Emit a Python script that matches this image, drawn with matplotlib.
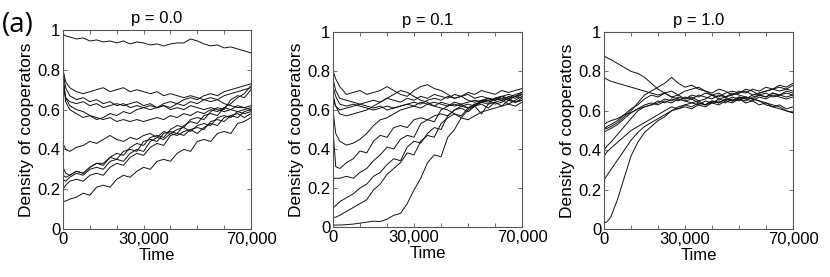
import matplotlib
matplotlib.use("Agg")
import matplotlib.pyplot as plt

plt.rcParams['font.family'] = ['Liberation Sans', 'DejaVu Sans']

# time axis (shared by all trajectories)
time = [0, 1000, 2500, 5000, 7500, 10000, 12500, 15000, 17500, 20000,
        22500, 25000, 27500, 30000, 32500, 35000, 37500, 40000, 42500, 45000,
        47500, 50000, 52500, 55000, 57500, 60000, 62500, 65000, 67500, 70000]

titles = ["p = 0.0", "p = 0.1", "p = 1.0"]
xtick_values = [0, 10000, 20000, 30000, 40000, 50000, 60000, 70000]
xtick_labels = ["0", "", "", "30,000", "", "", "", "70,000"]
ytick_values = [0, 0.2, 0.4, 0.6, 0.8, 1.0]
ytick_labels = ["0", "0.2", "0.4", "0.6", "0.8", "1"]

# p = 0.0 trajectories
p00 = [
    [0.98, 0.97, 0.965, 0.955, 0.96, 0.945, 0.95, 0.94, 0.945, 0.935, 0.945, 0.93, 0.94, 0.935, 0.925,
     0.93, 0.92, 0.93, 0.935, 0.935, 0.955, 0.945, 0.93, 0.92, 0.925, 0.91, 0.915, 0.905, 0.895, 0.885],
    [0.80, 0.74, 0.71, 0.69, 0.68, 0.69, 0.70, 0.71, 0.69, 0.70, 0.71, 0.69, 0.70, 0.69, 0.68,
     0.69, 0.67, 0.68, 0.67, 0.66, 0.67, 0.66, 0.65, 0.64, 0.65, 0.63, 0.62, 0.61, 0.61, 0.60],
    [0.79, 0.71, 0.67, 0.65, 0.66, 0.64, 0.65, 0.63, 0.64, 0.62, 0.63, 0.61, 0.62, 0.61, 0.60,
     0.61, 0.62, 0.61, 0.63, 0.62, 0.64, 0.63, 0.65, 0.66, 0.65, 0.67, 0.68, 0.69, 0.70, 0.71],
    [0.77, 0.66, 0.62, 0.60, 0.59, 0.57, 0.56, 0.55, 0.56, 0.54, 0.55, 0.54, 0.55, 0.54, 0.55,
     0.56, 0.55, 0.57, 0.56, 0.58, 0.57, 0.59, 0.58, 0.60, 0.59, 0.61, 0.60, 0.62, 0.61, 0.62],
    [0.75, 0.64, 0.60, 0.58, 0.56, 0.57, 0.55, 0.56, 0.58, 0.57, 0.59, 0.58, 0.60, 0.61, 0.62,
     0.61, 0.63, 0.64, 0.63, 0.65, 0.66, 0.65, 0.67, 0.68, 0.67, 0.69, 0.70, 0.71, 0.72, 0.73],
    [0.72, 0.66, 0.64, 0.63, 0.64, 0.62, 0.63, 0.61, 0.62, 0.63, 0.62, 0.63, 0.64, 0.62, 0.63,
     0.61, 0.62, 0.60, 0.61, 0.60, 0.62, 0.61, 0.60, 0.61, 0.60, 0.59, 0.60, 0.59, 0.58, 0.59],
    [0.43, 0.40, 0.39, 0.41, 0.42, 0.44, 0.43, 0.45, 0.47, 0.45, 0.44, 0.46, 0.45, 0.47, 0.48,
     0.46, 0.49, 0.48, 0.50, 0.51, 0.49, 0.52, 0.53, 0.52, 0.56, 0.57, 0.56, 0.59, 0.60, 0.61],
    [0.31, 0.28, 0.27, 0.29, 0.28, 0.31, 0.33, 0.32, 0.36, 0.38, 0.37, 0.41, 0.43, 0.42, 0.46,
     0.47, 0.46, 0.50, 0.52, 0.51, 0.55, 0.56, 0.55, 0.59, 0.61, 0.60, 0.65, 0.67, 0.66, 0.70],
    [0.27, 0.26, 0.27, 0.29, 0.28, 0.31, 0.33, 0.33, 0.36, 0.35, 0.39, 0.40, 0.39, 0.44, 0.45,
     0.44, 0.48, 0.49, 0.48, 0.52, 0.54, 0.53, 0.57, 0.58, 0.57, 0.61, 0.63, 0.66, 0.68, 0.72],
    [0.25, 0.24, 0.26, 0.28, 0.27, 0.30, 0.31, 0.30, 0.34, 0.35, 0.34, 0.38, 0.40, 0.39, 0.44,
     0.46, 0.45, 0.48, 0.47, 0.49, 0.50, 0.48, 0.51, 0.53, 0.52, 0.56, 0.57, 0.56, 0.59, 0.60],
    [0.20, 0.22, 0.24, 0.25, 0.24, 0.27, 0.28, 0.27, 0.31, 0.33, 0.32, 0.36, 0.38, 0.37, 0.41,
     0.43, 0.42, 0.47, 0.48, 0.47, 0.50, 0.51, 0.50, 0.54, 0.55, 0.54, 0.57, 0.58, 0.56, 0.58],
    [0.14, 0.14, 0.15, 0.16, 0.18, 0.17, 0.21, 0.22, 0.21, 0.25, 0.27, 0.26, 0.29, 0.31, 0.30,
     0.34, 0.35, 0.34, 0.38, 0.40, 0.39, 0.44, 0.45, 0.44, 0.48, 0.49, 0.48, 0.53, 0.54, 0.56],
]

# p = 0.1 trajectories
p01 = [
    [0.80, 0.76, 0.72, 0.68, 0.69, 0.70, 0.68, 0.69, 0.70, 0.72, 0.70, 0.68, 0.67, 0.70, 0.72,
     0.73, 0.71, 0.70, 0.68, 0.66, 0.67, 0.65, 0.64, 0.65, 0.66, 0.65, 0.67, 0.66, 0.68, 0.69],
    [0.76, 0.70, 0.66, 0.65, 0.64, 0.63, 0.62, 0.61, 0.62, 0.60, 0.61, 0.62, 0.63, 0.64, 0.63,
     0.65, 0.66, 0.65, 0.67, 0.66, 0.67, 0.68, 0.66, 0.67, 0.66, 0.65, 0.67, 0.66, 0.67, 0.66],
    [0.72, 0.67, 0.63, 0.62, 0.63, 0.62, 0.61, 0.60, 0.61, 0.62, 0.61, 0.62, 0.63, 0.62, 0.64,
     0.63, 0.64, 0.63, 0.62, 0.63, 0.62, 0.61, 0.63, 0.64, 0.65, 0.66, 0.67, 0.68, 0.67, 0.69],
    [0.68, 0.62, 0.58, 0.57, 0.58, 0.59, 0.60, 0.62, 0.64, 0.66, 0.68, 0.70, 0.69, 0.67, 0.65,
     0.64, 0.62, 0.61, 0.60, 0.58, 0.56, 0.55, 0.57, 0.59, 0.60, 0.61, 0.62, 0.63, 0.62, 0.64],
    [0.65, 0.62, 0.60, 0.61, 0.62, 0.63, 0.64, 0.65, 0.64, 0.66, 0.65, 0.64, 0.66, 0.65, 0.67,
     0.66, 0.68, 0.67, 0.66, 0.68, 0.67, 0.69, 0.68, 0.70, 0.69, 0.68, 0.70, 0.69, 0.70, 0.71],
    [0.60, 0.48, 0.44, 0.42, 0.43, 0.45, 0.48, 0.52, 0.55, 0.56, 0.58, 0.60, 0.61, 0.62, 0.61,
     0.63, 0.62, 0.64, 0.63, 0.62, 0.63, 0.64, 0.65, 0.64, 0.66, 0.65, 0.66, 0.65, 0.64, 0.65],
    [0.50, 0.31, 0.30, 0.33, 0.35, 0.39, 0.38, 0.44, 0.47, 0.46, 0.51, 0.52, 0.51, 0.55, 0.56,
     0.55, 0.57, 0.58, 0.57, 0.60, 0.61, 0.59, 0.62, 0.63, 0.61, 0.64, 0.65, 0.63, 0.65, 0.67],
    [0.25, 0.25, 0.25, 0.26, 0.25, 0.28, 0.30, 0.34, 0.37, 0.41, 0.40, 0.45, 0.47, 0.46, 0.53,
     0.55, 0.54, 0.60, 0.62, 0.64, 0.63, 0.61, 0.63, 0.64, 0.65, 0.63, 0.64, 0.66, 0.64, 0.65],
    [0.10, 0.11, 0.13, 0.15, 0.17, 0.20, 0.22, 0.26, 0.28, 0.32, 0.35, 0.34, 0.41, 0.44, 0.43,
     0.48, 0.51, 0.50, 0.57, 0.60, 0.62, 0.63, 0.62, 0.65, 0.64, 0.66, 0.67, 0.65, 0.67, 0.68],
    [0.05, 0.05, 0.06, 0.08, 0.10, 0.12, 0.14, 0.19, 0.22, 0.27, 0.30, 0.33, 0.38, 0.37, 0.44,
     0.47, 0.46, 0.53, 0.56, 0.58, 0.57, 0.61, 0.62, 0.64, 0.63, 0.66, 0.65, 0.67, 0.66, 0.68],
    [0.01, 0.01, 0.01, 0.012, 0.015, 0.02, 0.025, 0.03, 0.028, 0.04, 0.06, 0.07, 0.12, 0.19, 0.25,
     0.33, 0.37, 0.36, 0.46, 0.50, 0.56, 0.60, 0.62, 0.58, 0.63, 0.64, 0.62, 0.65, 0.64, 0.66],
]

# p = 1.0 trajectories
p10 = [
    [0.88, 0.87, 0.86, 0.84, 0.82, 0.80, 0.79, 0.77, 0.74, 0.71, 0.69, 0.67, 0.68, 0.66, 0.67,
     0.65, 0.66, 0.68, 0.66, 0.67, 0.65, 0.66, 0.64, 0.65, 0.63, 0.64, 0.62, 0.63, 0.61, 0.62],
    [0.77, 0.76, 0.75, 0.74, 0.73, 0.72, 0.71, 0.70, 0.69, 0.68, 0.69, 0.67, 0.66, 0.65, 0.64,
     0.65, 0.63, 0.64, 0.65, 0.64, 0.66, 0.65, 0.67, 0.66, 0.65, 0.64, 0.63, 0.62, 0.60, 0.59],
    [0.52, 0.51, 0.52, 0.54, 0.57, 0.60, 0.64, 0.68, 0.70, 0.72, 0.74, 0.77, 0.74, 0.72, 0.73,
     0.71, 0.70, 0.68, 0.69, 0.67, 0.68, 0.70, 0.69, 0.71, 0.70, 0.72, 0.71, 0.73, 0.72, 0.74],
    [0.50, 0.52, 0.53, 0.55, 0.58, 0.61, 0.63, 0.66, 0.68, 0.67, 0.69, 0.70, 0.68, 0.70, 0.71,
     0.72, 0.70, 0.69, 0.71, 0.70, 0.68, 0.69, 0.70, 0.68, 0.69, 0.70, 0.71, 0.70, 0.71, 0.70],
    [0.49, 0.50, 0.51, 0.53, 0.56, 0.59, 0.61, 0.62, 0.63, 0.65, 0.64, 0.66, 0.65, 0.67, 0.66,
     0.68, 0.67, 0.66, 0.68, 0.67, 0.69, 0.68, 0.67, 0.66, 0.65, 0.63, 0.62, 0.61, 0.60, 0.59],
    [0.53, 0.54, 0.55, 0.56, 0.58, 0.59, 0.61, 0.63, 0.64, 0.63, 0.65, 0.64, 0.66, 0.65, 0.66,
     0.64, 0.63, 0.65, 0.64, 0.66, 0.65, 0.67, 0.66, 0.68, 0.69, 0.70, 0.71, 0.72, 0.71, 0.73],
    [0.40, 0.42, 0.44, 0.48, 0.52, 0.56, 0.60, 0.62, 0.63, 0.64, 0.66, 0.65, 0.67, 0.66, 0.68,
     0.67, 0.69, 0.68, 0.67, 0.69, 0.70, 0.69, 0.71, 0.70, 0.68, 0.69, 0.67, 0.68, 0.69, 0.68],
    [0.37, 0.39, 0.41, 0.44, 0.47, 0.50, 0.52, 0.54, 0.56, 0.58, 0.60, 0.62, 0.61, 0.63, 0.62,
     0.64, 0.63, 0.65, 0.64, 0.66, 0.65, 0.67, 0.66, 0.65, 0.67, 0.66, 0.68, 0.67, 0.66, 0.67],
    [0.25, 0.27, 0.30, 0.35, 0.40, 0.45, 0.49, 0.52, 0.54, 0.56, 0.58, 0.60, 0.61, 0.62, 0.61,
     0.63, 0.62, 0.64, 0.63, 0.65, 0.64, 0.66, 0.67, 0.66, 0.68, 0.67, 0.69, 0.68, 0.67, 0.68],
    [0.03, 0.035, 0.06, 0.15, 0.26, 0.37, 0.44, 0.49, 0.52, 0.55, 0.57, 0.60, 0.62, 0.63, 0.64,
     0.63, 0.65, 0.64, 0.66, 0.65, 0.67, 0.66, 0.65, 0.67, 0.68, 0.67, 0.69, 0.68, 0.70, 0.69],
]

panels = [p00, p01, p10]

fig = plt.figure(figsize=(8.30, 2.77), dpi=100)
rects = [
    [63 / 830, 48 / 277, 188 / 830, 199 / 277],
    [333 / 830, 50 / 277, 189 / 830, 195 / 277],
    [604 / 830, 48 / 277, 189 / 830, 197 / 277],
]
frame_col = '#555555'
for rect, title, series in zip(rects, titles, panels):
    ax = fig.add_axes(rect)
    for y in series:
        ax.plot(time, y, color='#111111', lw=0.7)
    ax.set_xlim(0, 70000)
    ax.set_ylim(0, 1)
    ax.set_xticks(xtick_values)
    ax.set_xticklabels(xtick_labels, fontsize=12)
    ax.set_yticks(ytick_values)
    ax.set_yticklabels(ytick_labels, fontsize=12)
    ax.tick_params(direction='in', length=3, width=0.6, color=frame_col,
                   top=True, right=True, pad=2)
    for s in ax.spines.values():
        s.set_color(frame_col)
        s.set_linewidth(0.8)
    ax.set_title(title, fontsize=12, pad=5)
    ax.set_xlabel("Time", fontsize=12, labelpad=1)
    ax.set_ylabel("Density of cooperators", fontsize=12.5, labelpad=2)

fig.text(0.002, 0.91, "(a)", fontsize=20, family=['Open Sans', 'DejaVu Sans'], ha='left', va='center')

fig.savefig("out.png", dpi=100)
